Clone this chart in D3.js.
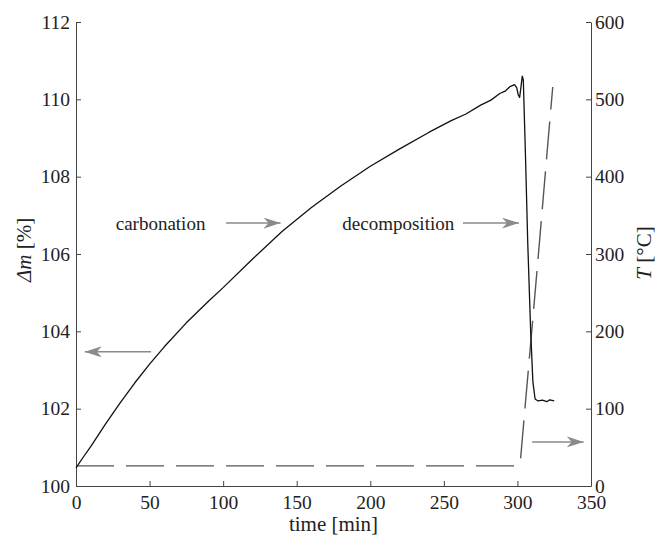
<!DOCTYPE html>
<html>
<head>
<meta charset="utf-8">
<script src="https://cdn.jsdelivr.net/npm/d3@7"></script>
<style>
    body { margin: 0; background: #fff; }
    svg text { font-family: "Liberation Serif", "DejaVu Serif", serif; fill: #222; }
    .axis path, .axis line { stroke: #444; }
</style>
</head>
<body>
<div id="chart"></div>
<script>
// mass change curve (solid), time in min, mass in %
var massTime = [0, 5, 10, 20, 30, 40, 50, 60, 75, 90, 100, 120, 140, 160, 180, 200, 220, 240, 255, 265, 275,
    282, 288, 292, 295, 298, 299.5, 300.5, 301.5, 302.5, 303.3, 304, 305.5, 307, 309, 310.5, 312, 314, 317, 320, 322, 325];
var massValue = [100.47, 100.75, 101.02, 101.6, 102.15, 102.67, 103.15, 103.6, 104.22, 104.78, 105.13, 105.87, 106.58,
    107.2, 107.76, 108.27, 108.72, 109.15, 109.45, 109.62, 109.85, 109.98, 110.15, 110.22, 110.33, 110.38, 110.3,
    110.12, 110.05, 110.35, 110.6, 110.5, 108.5, 106.3, 104.0, 102.7, 102.25, 102.2, 102.22, 102.18, 102.23, 102.2];

// furnace temperature (dashed), time in min, T in °C
var tempTime = [0, 100, 200, 300, 301, 302, 305, 310, 315, 320, 324];
var tempValue = [26, 26, 26, 26, 28, 32, 98, 206, 316, 428, 516];

var xTicks = [0, 50, 100, 150, 200, 250, 300, 350];
var massTicks = [100, 102, 104, 106, 108, 110, 112];
var tempTicks = [0, 100, 200, 300, 400, 500, 600];

// annotation arrows: [x1, y1, x2, y2] in data units of the mass axis (tip at x2,y2)
var annotations = [
    {text: "carbonation", tx: 27, ty: 106.62, arrow: [102, 106.8, 139, 106.8]},
    {text: "decomposition", tx: 181, ty: 106.62, arrow: [263, 106.8, 301, 106.8]}
];
var axisArrows = [
    {axis: "mass", arrow: [51, 103.47, 6, 103.47]},
    {axis: "temp", arrow: [310, 57, 345, 57]}
];

var svgWidth = 656, svgHeight = 535;
var margin = {top: 22, right: 65, bottom: 49, left: 76};
var width = svgWidth - margin.left - margin.right;
var height = svgHeight - margin.top - margin.bottom;

var svg = d3.select("#chart").append("svg")
    .attr("width", svgWidth)
    .attr("height", svgHeight);

svg.append("defs").append("marker")
    .attr("id", "head")
    .attr("viewBox", "0 0 10 10")
    .attr("refX", 10)
    .attr("refY", 5)
    .attr("markerWidth", 17)
    .attr("markerHeight", 11)
    .attr("markerUnits", "userSpaceOnUse")
    .attr("orient", "auto")
    .attr("preserveAspectRatio", "none")
    .append("path")
    .attr("d", "M0,0 L10,5 L0,10 L3,5 Z")
    .attr("fill", "#8a8a8a");

var g = svg.append("g")
    .attr("transform", "translate(" + margin.left + "," + margin.top + ")");

var x = d3.scaleLinear().domain([0, 350]).range([0, width]);
var yMass = d3.scaleLinear().domain([100, 112]).range([height, 0]);
var yTemp = d3.scaleLinear().domain([0, 600]).range([height, 0]);

// bottom axis, ticks pointing inward
g.append("g")
    .attr("class", "axis")
    .attr("transform", "translate(0," + height + ")")
    .call(d3.axisBottom(x).tickValues(xTicks).tickSize(-5).tickSizeOuter(0).tickPadding(9))
    .selectAll("text").attr("font-size", 19.5).attr("fill", "#222");

// left axis
g.append("g")
    .attr("class", "axis")
    .call(d3.axisLeft(yMass).tickValues(massTicks).tickSize(-5).tickSizeOuter(0).tickPadding(6))
    .selectAll("text").attr("font-size", 19.5).attr("fill", "#222");

// right axis
g.append("g")
    .attr("class", "axis")
    .attr("transform", "translate(" + width + ",0)")
    .call(d3.axisRight(yTemp).tickValues(tempTicks).tickSize(-5).tickSizeOuter(0).tickPadding(4))
    .selectAll("text").attr("font-size", 19.5).attr("fill", "#222");

// temperature line
var tempLine = d3.line()
    .x(function (d, i) { return x(tempTime[i]); })
    .y(function (d) { return yTemp(d); });

g.append("path")
    .datum(tempValue)
    .attr("fill", "none")
    .attr("stroke", "#555")
    .attr("stroke-width", 1.4)
    .attr("stroke-dasharray", "38,12")
    .attr("d", tempLine);

// mass line
var massLine = d3.line()
    .x(function (d, i) { return x(massTime[i]); })
    .y(function (d) { return yMass(d); });

g.append("path")
    .datum(massValue)
    .attr("fill", "none")
    .attr("stroke", "#111")
    .attr("stroke-width", 1.3)
    .attr("stroke-linejoin", "round")
    .attr("d", massLine);

// annotation texts + arrows
annotations.forEach(function (a) {
    g.append("text")
        .attr("x", x(a.tx))
        .attr("y", yMass(a.ty))
        .attr("font-size", 19)
        .text(a.text);
    g.append("line")
        .attr("x1", x(a.arrow[0])).attr("y1", yMass(a.arrow[1]))
        .attr("x2", x(a.arrow[2])).attr("y2", yMass(a.arrow[3]))
        .attr("stroke", "#8a8a8a")
        .attr("stroke-width", 1.5)
        .attr("marker-end", "url(#head)");
});

axisArrows.forEach(function (a) {
    var yS = a.axis === "mass" ? yMass : yTemp;
    g.append("line")
        .attr("x1", x(a.arrow[0])).attr("y1", yS(a.arrow[1]))
        .attr("x2", x(a.arrow[2])).attr("y2", yS(a.arrow[3]))
        .attr("stroke", "#8a8a8a")
        .attr("stroke-width", 1.5)
        .attr("marker-end", "url(#head)");
});

// axis titles
svg.append("text")
    .attr("x", margin.left + width / 2)
    .attr("y", 531)
    .attr("text-anchor", "middle")
    .attr("font-size", 21)
    .text("time [min]");

var leftTitle = svg.append("text")
    .attr("transform", "translate(31,250) rotate(-90)")
    .attr("text-anchor", "middle")
    .attr("font-size", 21);
leftTitle.append("tspan").attr("font-style", "italic").text("Δm");
leftTitle.append("tspan").text(" [%]");

var rightTitle = svg.append("text")
    .attr("transform", "translate(651,253) rotate(-90)")
    .attr("text-anchor", "middle")
    .attr("font-size", 21);
rightTitle.append("tspan").attr("font-style", "italic").text("T");
rightTitle.append("tspan").text(" [°C]");
</script>
</body>
</html>
